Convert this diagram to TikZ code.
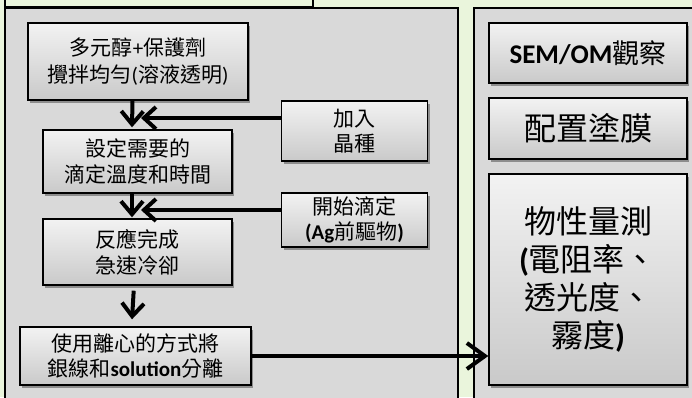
\documentclass[tikz,border=0pt]{standalone}
\usepackage{fontspec}
\setmainfont{Noto Sans CJK TC}
\newfontfamily\lat{Carlito}
\usetikzlibrary{arrows.meta,shadows}
\definecolor{bggreen}{RGB}{234,245,220}
\definecolor{panelgray}{RGB}{217,217,217}
\tikzset{
  panel/.style={draw=black,line width=2pt,fill=panelgray},
  stepbox/.style={draw=black,line width=1.4pt,top color=white!95!black,bottom color=white!79!black,
    align=center,inner sep=0pt,
    drop shadow={shadow xshift=2pt,shadow yshift=-2.5pt,opacity=0.35,fill=black}},
  flow/.style={line width=4pt,-{Straight Barb[length=13pt,width=22pt]}},
}
\begin{document}
\begin{tikzpicture}[x=1pt,y=-1pt]
\useasboundingbox (0,0) rectangle (692,397);
\clip (0,0) rectangle (692,397);
\fill[bggreen] (0,0) rectangle (692,397);
% top cut-off box and panels
\draw[line width=2pt,fill=bggreen] (5,-10) rectangle (313,7);
\draw[panel] (5,8) rectangle (458,410);
\draw[panel] (474,8) rectangle (710,410);
% left boxes
\node[stepbox,minimum width=220pt,minimum height=77pt,font=\fontsize{21}{27}\selectfont] (b1) at (138,61.5)
  {多元醇{\lat +}保護劑\\攪拌均勻{\lat (}溶液透明{\lat )}};
\node[stepbox,minimum width=189pt,minimum height=63pt,font=\fontsize{21}{26}\selectfont] (b2) at (137.5,161.5)
  {設定需要的\\滴定溫度和時間};
\node[stepbox,minimum width=189pt,minimum height=66pt,font=\fontsize{21}{26}\selectfont] (b3) at (137.5,252)
  {反應完成\\急速冷卻};
\node[stepbox,minimum width=231pt,minimum height=58pt,font=\fontsize{21}{25}\selectfont] (b4) at (135.5,356)
  {使用離心的方式將\\銀線和{\lat\bfseries solution}分離};
\node[stepbox,minimum width=146pt,minimum height=60pt,font=\fontsize{21}{25}\selectfont] (jia) at (354.5,131)
  {加入\\晶種};
\node[stepbox,minimum width=146pt,minimum height=54pt,font=\fontsize{21}{25}\selectfont] (start) at (354.5,220)
  {開始滴定\\{\lat\bfseries (Ag}前驅物{\lat\bfseries )}};
% right boxes
\node[stepbox,minimum width=198pt,minimum height=60pt,font=\fontsize{27}{32}\selectfont] (sem) at (588,53)
  {{\lat\bfseries SEM/OM}觀察};
\node[stepbox,minimum width=198pt,minimum height=61pt,font=\fontsize{32}{38}\selectfont] (coat) at (588,128.5)
  {配置塗膜};
\node[stepbox,minimum width=198pt,minimum height=211pt,font=\fontsize{32}{38}\selectfont] (phys) at (588,279.5)
  {物性量測\\{\lat\bfseries (}電阻率、\\透光度、\\霧度{\lat\bfseries )}};
% connectors
\coordinate (m1) at (141,118);
\coordinate (m2) at (141,210);
\draw[flow] ([xshift=-5.5pt]b1.south) -- ([xshift=-5.5pt,yshift=2pt]b2.north);
\draw[flow] ([xshift=-5.5pt]b2.south) -- ([xshift=-5.5pt,yshift=1pt]b3.north);
\draw[flow,shorten <=5pt] ([xshift=-3.5pt]b3.south) -- ([xshift=-3.5pt,yshift=7pt]b4.north);
\draw[flow,-{Straight Barb[length=12pt,width=22pt]}] (jia.west |- m1) -- (m1);
\draw[flow,-{Straight Barb[length=12pt,width=22pt]}] (start.west |- m2) -- (m2);
\draw[flow,-{Straight Barb[length=18pt,width=26pt]}] (b4.east) -- (b4.east -| phys.west);
\end{tikzpicture}
\end{document}
